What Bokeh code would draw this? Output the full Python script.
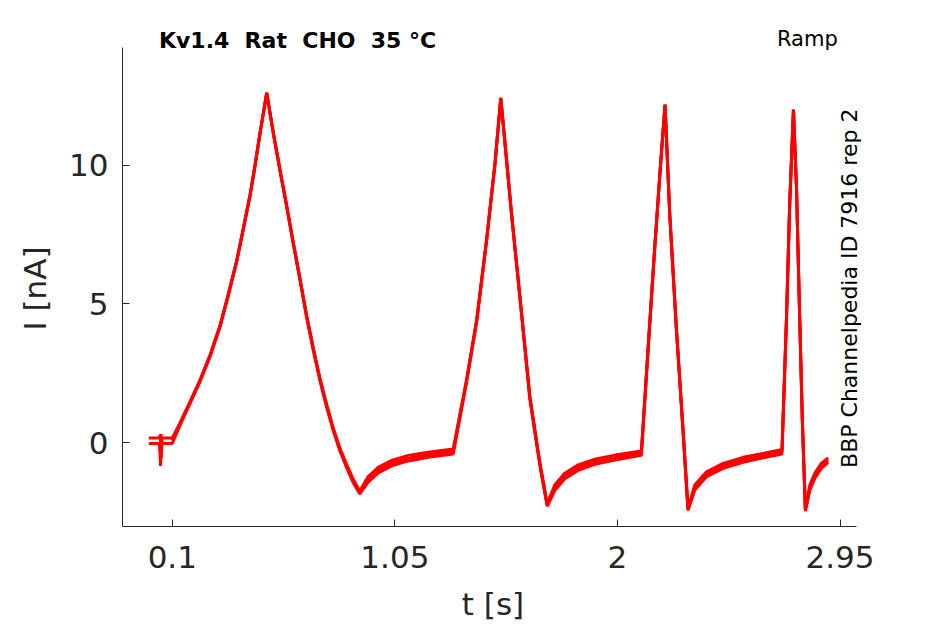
import math
from bokeh.plotting import figure
from bokeh.models import Range1d, FixedTicker, Label, Title
from bokeh.embed import file_html
from bokeh.resources import INLINE

# time [s]
t_a = [0.0, 0.045, 0.05, 0.052, 0.055,
       0.100, 0.133, 0.176, 0.218, 0.261, 0.304, 0.339, 0.375, 0.403, 0.432, 0.453, 0.475, 0.503,
       0.531, 0.559, 0.588, 0.616, 0.645, 0.673, 0.702, 0.730, 0.759, 0.787, 0.815, 0.844, 0.872, 0.900,
       0.936, 0.979, 1.036, 1.107, 1.192, 1.299,
       1.356, 1.399, 1.441, 1.477, 1.502, 1.548, 1.591, 1.626, 1.669, 1.700,
       1.733, 1.775, 1.832, 1.903, 1.989, 2.102,
       2.131, 2.159, 2.184, 2.203, 2.223, 2.252, 2.280, 2.301,
       2.330, 2.380, 2.451, 2.536, 2.621, 2.702,
       2.721, 2.735, 2.751, 2.764, 2.778, 2.789, 2.802,
       2.821, 2.842, 2.870, 2.899]
# current [nA], lower edge of the band of sweeps
i_a = [-0.02, -0.02, -0.83, 0.32, -0.02,
       -0.02, 0.64, 1.42, 2.20, 3.10, 4.18, 5.30, 6.52, 7.67, 8.89, 9.96, 11.16, 12.60,
       11.14, 9.82, 8.50, 7.18, 5.86, 4.54, 3.33, 2.25, 1.28, 0.44, -0.28, -0.89, -1.43, -1.84,
       -1.41, -1.08, -0.83, -0.65, -0.52, -0.40,
       2.18, 4.35, 7.24, 10.01, 12.42, 8.21, 4.60, 1.59, -0.82, -2.28,
       -1.71, -1.29, -0.99, -0.77, -0.62, -0.45,
       3.39, 7.00, 10.01, 12.18, 8.21, 4.00, 0.39, -2.43,
       -1.70, -1.22, -0.92, -0.70, -0.54, -0.40,
       4.35, 8.56, 12.00, 9.16, 4.36, 0.75, -2.46,
       -1.70, -1.28, -0.92, -0.70]
# time [s] and current [nA], upper edge of the band
t_b = [0.0, 0.045, 0.049, 0.053, 0.056,
       0.100, 0.133, 0.176, 0.218, 0.261, 0.304, 0.339, 0.375, 0.403, 0.432, 0.453, 0.475, 0.503,
       0.531, 0.559, 0.588, 0.616, 0.645, 0.673, 0.702, 0.730, 0.759, 0.787, 0.815, 0.844, 0.872, 0.900,
       0.936, 0.979, 1.036, 1.107, 1.192, 1.299,
       1.356, 1.399, 1.441, 1.477, 1.502, 1.548, 1.591, 1.626, 1.669, 1.700,
       1.733, 1.775, 1.832, 1.903, 1.989, 2.102,
       2.131, 2.159, 2.184, 2.203, 2.223, 2.252, 2.280, 2.301,
       2.330, 2.380, 2.451, 2.536, 2.621, 2.702,
       2.721, 2.735, 2.751, 2.764, 2.778, 2.789, 2.802,
       2.821, 2.842, 2.870, 2.899]
i_b = [0.18, 0.18, 0.30, -0.55, 0.18,
       0.18, 0.72, 1.49, 2.26, 3.16, 4.24, 5.36, 6.58, 7.73, 8.95, 10.00, 11.19, 12.58,
       11.18, 9.88, 8.56, 7.24, 5.92, 4.60, 3.41, 2.33, 1.38, 0.54, -0.18, -0.77, -1.30, -1.74,
       -1.21, -0.88, -0.63, -0.45, -0.34, -0.22,
       2.28, 4.43, 7.30, 10.05, 12.40, 8.25, 4.66, 1.67, -0.72, -2.18,
       -1.51, -1.09, -0.79, -0.59, -0.44, -0.29,
       3.47, 7.06, 10.05, 12.16, 8.25, 4.06, 0.47, -2.35,
       -1.52, -1.04, -0.74, -0.52, -0.38, -0.24,
       4.43, 8.62, 11.98, 9.20, 4.42, 0.83, -2.38,
       -1.52, -1.10, -0.74, -0.54]
# time [s] and current [nA], middle of the band
t_c = [0.100, 0.133, 0.176, 0.218, 0.261, 0.304, 0.339, 0.375, 0.403, 0.432, 0.453, 0.475, 0.503,
       0.531, 0.559, 0.588, 0.616, 0.645, 0.673, 0.702, 0.730, 0.759, 0.787, 0.815, 0.844, 0.872, 0.900,
       0.936, 0.979, 1.036, 1.107, 1.192, 1.299,
       1.356, 1.399, 1.441, 1.477, 1.502, 1.548, 1.591, 1.626, 1.669, 1.700,
       1.733, 1.775, 1.832, 1.903, 1.989, 2.102,
       2.131, 2.159, 2.184, 2.203, 2.223, 2.252, 2.280, 2.301,
       2.330, 2.380, 2.451, 2.536, 2.621, 2.702,
       2.721, 2.735, 2.751, 2.764, 2.778, 2.789, 2.802,
       2.821, 2.842, 2.870, 2.899]
i_c = [0.08, 0.68, 1.45, 2.23, 3.13, 4.21, 5.33, 6.55, 7.70, 8.92, 9.98, 11.18, 12.60,
       11.16, 9.85, 8.53, 7.21, 5.89, 4.57, 3.37, 2.29, 1.33, 0.49, -0.23, -0.83, -1.37, -1.79,
       -1.31, -0.98, -0.73, -0.55, -0.43, -0.31,
       2.23, 4.39, 7.27, 10.03, 12.42, 8.23, 4.63, 1.63, -0.77, -2.23,
       -1.61, -1.19, -0.89, -0.68, -0.53, -0.37,
       3.43, 7.03, 10.03, 12.18, 8.23, 4.03, 0.43, -2.39,
       -1.61, -1.13, -0.83, -0.61, -0.46, -0.32,
       4.39, 8.59, 12.00, 9.18, 4.39, 0.79, -2.42,
       -1.61, -1.19, -0.83, -0.62]

x_ticks = [0.1, 1.05, 2, 2.95]
x_tick_labels = ["0.1", "1.05", "2", "2.95"]
y_ticks = [0, 5, 10]
y_tick_labels = ["0", "5", "10"]

title_text = "Kv1.4\u00a0\u00a0Rat\u00a0\u00a0CHO\u00a0\u00a035\u00a0\u00b0C"
protocol_text = "Ramp"
source_text = "BBP Channelpedia ID 7916 rep 2"
x_label = "t [s]"
y_label = "I [nA]"

FONT = "DejaVu Sans"
AX = "#262626"
RED = "#ff0000"

X0, X1 = -0.1125, 3.02
Y0, Y1 = -3.01, 14.22

p = figure(width=883, height=624, output_backend="svg", toolbar_location=None,
           x_range=Range1d(X0, 3.05), y_range=Range1d(Y0, 15.6),
           min_border_left=122, min_border_right=20, min_border_top=9, min_border_bottom=98)
p.outline_line_color = None
p.grid.visible = False
p.background_fill_color = "white"
p.border_fill_color = "white"

p.line(t_a, i_a, line_color=RED, line_width=3.0)
p.line(t_b, i_b, line_color=RED, line_width=3.0)
p.line(t_c, i_c, line_color=RED, line_width=3.0)

for ax in (p.xaxis[0], p.yaxis[0]):
    ax.axis_line_color = AX
    ax.major_tick_line_color = AX
    ax.major_tick_in = 7
    ax.major_tick_out = 0
    ax.minor_tick_line_color = None
    ax.major_label_text_font = FONT
    ax.major_label_text_font_size = "31px"
    ax.major_label_text_color = AX
    ax.axis_label_text_font = FONT
    ax.axis_label_text_font_size = "31px"
    ax.axis_label_text_font_style = "normal"
    ax.axis_label_text_color = AX

p.xaxis.bounds = (X0, X1)
p.yaxis.bounds = (Y0, Y1)
p.xaxis.ticker = FixedTicker(ticks=x_ticks)
p.xaxis.major_label_overrides = dict(zip(x_ticks, x_tick_labels))
p.yaxis.ticker = FixedTicker(ticks=y_ticks)
p.yaxis.major_label_overrides = dict(zip(y_ticks, y_tick_labels))
p.xaxis.axis_label = x_label
p.xaxis.major_label_standoff = 19
p.xaxis.axis_label_standoff = 15
p.yaxis.major_label_standoff = 14

p.add_layout(Title(text=y_label, align="left", offset=196, standoff=28, vertical_align="bottom",
                   text_font=FONT, text_font_size="31px", text_font_style="normal",
                   text_color=AX), "left")

p.add_layout(Label(x=0.043, y=14.49, text=title_text, text_font=FONT, text_font_size="22px",
                   text_font_style="bold", text_color="black", text_baseline="alphabetic",
                   text_align="left"))
p.add_layout(Label(x=2.94, y=14.54, text=protocol_text, text_font=FONT, text_font_size="21px",
                   text_color="black", text_baseline="alphabetic", text_align="right"))
p.add_layout(Label(x=2.991, y=-0.9, text=source_text, text_font=FONT, text_font_size="22px",
                   text_color="black", text_baseline="middle", text_align="left",
                   angle=math.pi / 2))

open("out.html", "w").write(file_html(p, INLINE))
